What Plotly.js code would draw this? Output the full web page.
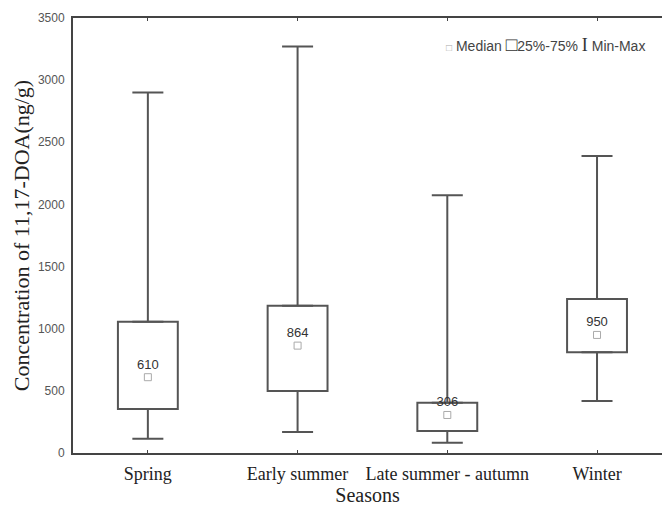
<!DOCTYPE html>
<html>
<head>
<meta charset="utf-8">
<script src="https://cdn.plot.ly/plotly-3.0.1.min.js"></script>
<style>html,body{margin:0;padding:0;background:#fff;}</style>
</head>
<body>
<div id="chart" style="width:662px;height:511px;"></div>
<script>
var seasons = ["Spring", "Early summer", "Late summer - autumn", "Winter"];
var minVals = [115, 169, 83, 418];
var q1Vals = [354, 499, 177, 810];
var medianVals = [610, 864, 306, 950];
var q3Vals = [1056, 1185, 405, 1239];
var maxVals = [2900, 3270, 2073, 2390];
var medianLabels = ["610", "864", "306", "950"];
var yTicks = [0, 500, 1000, 1500, 2000, 2500, 3000, 3500];

var lineColor = "#555555";

var boxTrace = {
  type: "bar",
  x: seasons,
  base: q1Vals,
  y: q3Vals.map(function (v, i) { return v - q1Vals[i]; }),
  width: 0.4,
  marker: { color: "rgba(255,255,255,1)", line: { color: lineColor, width: 2 } },
  hoverinfo: "skip",
  showlegend: false
};

var upperWhisker = {
  type: "scatter",
  mode: "markers",
  x: seasons,
  y: q3Vals,
  marker: { size: 1, color: "rgba(0,0,0,0)" },
  error_y: {
    type: "data", symmetric: false,
    array: maxVals.map(function (v, i) { return v - q3Vals[i]; }),
    arrayminus: q3Vals.map(function () { return 0; }),
    color: lineColor, thickness: 2, width: 15.5
  },
  hoverinfo: "skip",
  showlegend: false
};

var lowerWhisker = {
  type: "scatter",
  mode: "markers",
  x: seasons,
  y: q1Vals,
  marker: { size: 1, color: "rgba(0,0,0,0)" },
  error_y: {
    type: "data", symmetric: false,
    array: q1Vals.map(function () { return 0; }),
    arrayminus: q1Vals.map(function (v, i) { return v - minVals[i]; }),
    color: lineColor, thickness: 2, width: 15.5
  },
  hoverinfo: "skip",
  showlegend: false
};

var medianTrace = {
  type: "scatter",
  mode: "markers+text",
  x: seasons,
  y: medianVals,
  text: medianLabels,
  textposition: "top center",
  textfont: { family: "Liberation Sans, Arial, sans-serif", size: 13, color: "#333333" },
  marker: { symbol: "square-open", size: 7, color: "#aaaaaa", line: { width: 1 } },
  showlegend: false
};

var layout = {
  width: 662,
  height: 511,
  margin: { l: 73, r: 0, t: 18, b: 58 },
  paper_bgcolor: "#ffffff",
  plot_bgcolor: "#ffffff",
  showlegend: false,
  barmode: "overlay",
  xaxis: {
    type: "category",
    range: [-0.5, 3.434],
    showline: true, linecolor: "#444444", linewidth: 2,
    mirror: "ticks",
    ticks: "inside", ticklen: 3, tickcolor: "#444444",
    showgrid: false, zeroline: false,
    ticklabelstandoff: 3,
    tickfont: { family: "Liberation Serif, Times New Roman, serif", size: 18, color: "#222222" },
    title: { text: "Seasons", font: { family: "Liberation Serif, Times New Roman, serif", size: 20, color: "#222222" }, standoff: 0 }
  },
  yaxis: {
    range: [0, 3500],
    tickvals: yTicks,
    ticktext: yTicks.map(String),
    showline: true, linecolor: "#444444", linewidth: 2,
    ticks: "", showgrid: false, zeroline: false,
    ticklabelstandoff: 4,
    tickfont: { family: "Liberation Sans, Arial, sans-serif", size: 12, color: "#555555" },
    title: { text: "Concentration of 11,17-DOA(ng/g)", font: { family: "Liberation Serif, Times New Roman, serif", size: 22, color: "#222222" }, standoff: 2 }
  },
  annotations: [{
    xref: "paper", yref: "paper",
    x: 0.975, y: 0.94, xanchor: "right", yanchor: "middle",
    showarrow: false,
    text: '<span style="color:#aaaaaa;font-size:10px">□</span> Median <span style="font-size:19px;color:#333">□</span>25%-75% <span style="font-family:Liberation Serif, serif;font-size:18px;color:#333">I</span> Min-Max',
    font: { family: "Liberation Sans, Arial, sans-serif", size: 14, color: "#444444" }
  }]
};

Plotly.newPlot("chart", [boxTrace, upperWhisker, lowerWhisker, medianTrace], layout, { staticPlot: true, displayModeBar: false });
</script>
</body>
</html>
